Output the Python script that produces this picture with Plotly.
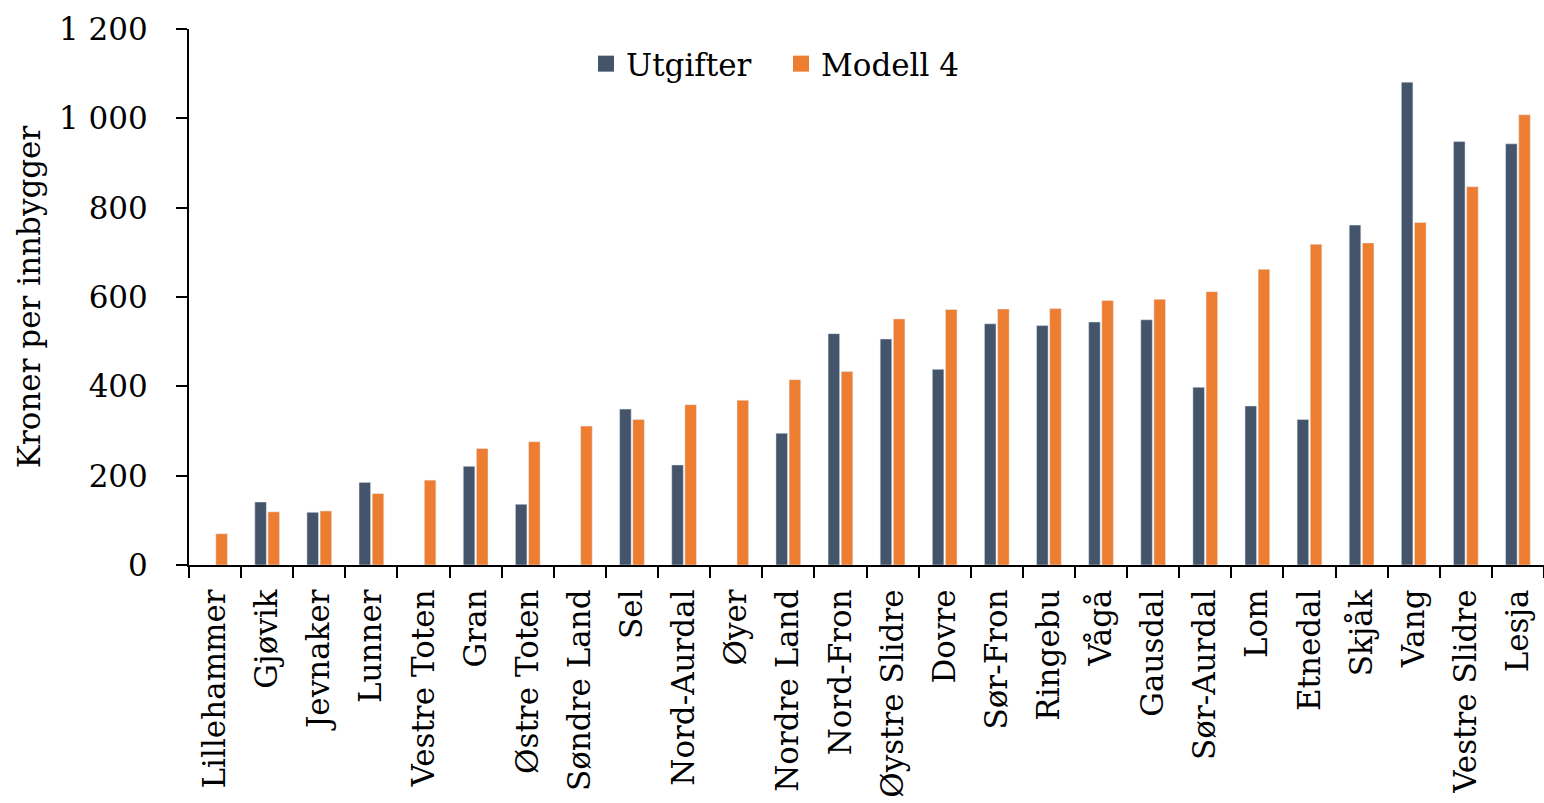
import plotly.graph_objects as go

kommuner = ["Lillehammer", "Gjøvik", "Jevnaker", "Lunner", "Vestre Toten", "Gran",
            "Østre Toten", "Søndre Land", "Sel", "Nord-Aurdal", "Øyer", "Nordre Land",
            "Nord-Fron", "Øystre Slidre", "Dovre", "Sør-Fron", "Ringebu", "Vågå",
            "Gausdal", "Sør-Aurdal", "Lom", "Etnedal", "Skjåk", "Vang", "Vestre Slidre", "Lesja"]

utgifter = [0, 141, 118, 185, 0, 221, 136, 0, 349, 224, 0, 295,
            518, 506, 438, 540, 536, 544, 549, 398, 356, 326, 761, 1081, 948, 943]

modell4 = [70, 119, 121, 160, 190, 261, 276, 311, 326, 359, 369, 415,
           433, 551, 572, 573, 574, 592, 595, 612, 662, 718, 721, 767, 847, 1008]

y_ticks = [0, 200, 400, 600, 800, 1000, 1200]

BLUE = "#44546A"
ORANGE = "#ED7D31"
FONT = "DejaVu Serif"

fig = go.Figure()
fig.add_trace(go.Bar(x=kommuner, y=utgifter, name="Utgifter", marker_color=BLUE, showlegend=False))
fig.add_trace(go.Bar(x=kommuner, y=modell4, name="Modell 4", marker_color=ORANGE, showlegend=False))
# legend entries with larger square symbols
fig.add_trace(go.Scatter(x=[None], y=[None], mode="markers", name="Utgifter",
                         marker=dict(symbol="square", size=20, color=BLUE)))
fig.add_trace(go.Scatter(x=[None], y=[None], mode="markers", name="Modell 4",
                         marker=dict(symbol="square", size=20, color=ORANGE)))

fig.update_layout(
    width=1544, height=803,
    margin=dict(l=189, r=0, t=29, b=238, pad=0, autoexpand=False),
    plot_bgcolor="white", paper_bgcolor="white",
    font=dict(family=FONT, size=31, color="black"),
    barmode="group", bargap=0.495, bargroupgap=0.12,
    separators=", ",
    legend=dict(orientation="h", x=586 / 1544, xref="container", xanchor="left",
                y=1 - 64 / 803, yref="container", yanchor="middle",
                entrywidth=150, font=dict(size=31), bgcolor="rgba(0,0,0,0)"),
)

fig.update_xaxes(
    type="category", tickangle=-90, showline=True, linecolor="black", linewidth=2,
    ticks="outside", ticklen=11, tickwidth=2, tickcolor="black", tickson="boundaries",
    ticklabelstandoff=10, showgrid=False, automargin=False,
    tickfont=dict(family=FONT, size=31),
)
fig.update_yaxes(
    range=[0, 1200], tickvals=y_ticks, tickformat=",d",
    showline=True, linecolor="black", linewidth=2,
    ticks="outside", ticklen=11, tickwidth=2, tickcolor="black",
    ticklabelstandoff=22, showgrid=False, zeroline=False, automargin=False,
    tickfont=dict(family=FONT, size=31),
    title=dict(text="Kroner per innbygger", font=dict(family=FONT, size=31), standoff=9),
)

fig.write_html("out.html", config={"displayModeBar": False},
               post_script="document.body.style.margin='0';document.body.style.overflow='hidden';")
